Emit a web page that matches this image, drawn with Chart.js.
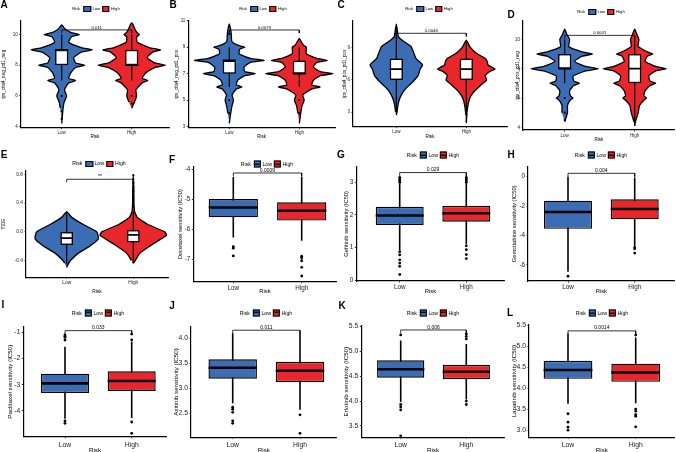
<!DOCTYPE html>
<html>
<head>
<meta charset="utf-8">
<script src="https://cdn.jsdelivr.net/npm/chart.js@4.4.0/dist/chart.umd.min.js"></script>
<style>
  body { margin: 0; width: 676px; height: 452px; overflow: hidden; background: #fff; position: relative; font-family: "Liberation Sans", Arial, sans-serif; }
  canvas { position: absolute; }
  .tag { position: absolute; font-weight: bold; font-size: 10px; line-height: 1; transform: translate(-50%, -50%); color: #000; }
  .legend { position: absolute; display: flex; align-items: center; white-space: nowrap; transform: translate(-50%, -50%); color: #000; line-height: 1; }
  .legend .key { display: inline-block; box-sizing: border-box; border: 1px solid #000; margin: 0 1.5px 0 2px; }
</style>
</head>
<body>
<script>
// ---- data ----
const groups = ['Low', 'High'];
const panelTags = ['A', 'B', 'C', 'D', 'E', 'F', 'G', 'H', 'I', 'J', 'K', 'L'];
const yTitles = ['ips_ctla4_neg_pd1_neg', 'ips_ctla4_neg_pd1_pos', 'ips_ctla4_pos_pd1_pos', 'ips_ctla4_pos_pd1_neg', 'TIDE',
  'Docetaxel sensitivity (IC50)', 'Gefitinib sensitivity (IC50)', 'Gemcitabine sensitivity (IC50)',
  'Paclitaxel sensitivity (IC50)', 'Axitinib sensitivity (IC50)', 'Erlotinib sensitivity (IC50)', 'Lapatinib sensitivity (IC50)'];
const xTitle = 'Risk';
const legendTitle = 'Risk';
const pLabels = ['0.011', '0.0079', '0.0046', '0.0041', '**', '0.0009', '0.029', '0.004', '0.033', '0.011', '0.006', '0.0014'];
const bracketY = [10.3, 10.3, 10.33, 10.27, 0.733, -4.12, 3.3, 0.23, -0.94, 4.16, 5.43, 5.36];

const yMin = [3.93, 2.92, 1.66, 3.82, -0.638, -7.75, -0.03, -7.09, -4.98, 2.02, 3.27, 2.83];
const yMax = [10.9, 11.0, 11.5, 11.27, 0.853, -3.91, 3.48, 0.68, -0.79, 4.23, 5.51, 5.5];
const yTicks = [[4, 6, 8, 10], [3, 5, 7, 9, 11], [3, 6, 9], [4, 6, 8, 10], [-0.4, 0, 0.4, 0.8],
  [-7, -6, -5, -4], [0, 1, 2, 3], [-6, -4, -2, 0], [-4, -3, -2, -1], [2.5, 3, 3.5, 4], [3.5, 4, 4.5, 5, 5.5], [3, 3.5, 4, 4.5, 5, 5.5]];
const tickDecimals = [0, 0, 0, 0, 1, 0, 0, 0, 0, 1, 1, 1];

// box statistics per panel, [Low, High]
const q1 = [[8, 8], [7, 7], [6, 6], [8, 7], [-0.187, -0.15], [-5.6, -5.71], [1.69, 1.79], [-3.54, -2.9],
  [-3.32, -3.24], [3.19, 3.12], [4.47, 4.44], [4.22, 4.15]];
const median = [[9, 8], [8, 7], [7, 7], [8, 8], [-0.09, -0.046], [-5.27, -5.38], [1.98, 2.05], [-2.4, -2.2],
  [-2.95, -2.86], [3.41, 3.35], [4.64, 4.59], [4.43, 4.37]];
const q3 = [[9, 9], [8, 8], [8, 8], [9, 9], [0, 0.024], [-4.99, -5.1], [2.25, 2.28], [-1.63, -1.54],
  [-2.58, -2.49], [3.58, 3.53], [4.82, 4.73], [4.65, 4.58]];
const whiskerLo = [[7, 7], [6, 6], [3, 2.1], [7, 4.1], [-0.46, -0.41], [-6.27, -6.38], [0.92, 1.1], [-6.46, -4.76],
  [-4.3, -4.27], [2.7, 2.57], [3.98, 4.03], [3.63, 3.64]];
const whiskerHi = [[10, 10], [9, 9], [10.9, 9.5], [10, 10], [0.26, 0.28], [-4.25, -4.25], [2.97, 2.97], [0, -0.05],
  [-1.55, -1.35], [4.1, 4.1], [5.22, 5.15], [5.3, 5.2]];
const outliers = [
  [[6, 5, 4.5], [6, 5.5]],
  [[10, 5, 4], [5, 4]],
  [[], []],
  [[6, 5, 4.5], []],
  [[], [0.35, 0.45, 0.57, 0.62, 0.68, 0.73, 0.79, -0.43]],
  [[-6.58, -6.63, -6.89], [-6.9, -6.95, -7.05, -7.27, -7.56]],
  [[3.0, 3.05, 3.1, 3.15, 0.87, 0.77, 0.62, 0.52, 0.42, 0.17], [3.0, 3.05, 3.1, 3.15, 1.05, 0.93, 0.78, 0.66]],
  [[-6.76], [-4.83, -4.9, -5.19]],
  [[-1.1, -1.15, -1.2, -1.3, -4.38, -4.47], [-1.07, -1.29, -4.42, -4.85]],
  [[2.62, 2.58, 2.52, 2.35, 2.3], [2.47, 2.1]],
  [[5.33, 3.93, 3.88, 3.82, 3.3], [5.35, 5.3, 5.25, 4.0, 3.93]],
  [[3.39, 3.19, 3.07, 3.0], [5.26, 3.5, 3.45, 3.37, 3.33, 3.08]]
];

// violin outlines for panels A-E: y levels and half widths (x units) for Low / High
const violinY = [
  [4.2, 5.2, 5.6, 6.0, 6.4, 6.85, 7.0, 7.15, 7.5, 7.85, 8.0, 8.15, 8.5, 8.85, 9.0, 9.15, 9.5, 9.85, 10.0, 10.15, 10.4, 10.63, 10.75],
  [3.25, 4.0, 4.6, 5.0, 5.4, 5.85, 6.0, 6.15, 6.5, 6.85, 7.0, 7.15, 7.5, 7.85, 8.0, 8.15, 8.5, 8.85, 9.0, 9.15, 9.4, 9.67, 9.9, 10.3, 10.75],
  [2.0, 2.74, 3.0, 3.5, 4.0, 4.45, 5.0, 5.23, 5.6, 6.0, 6.4, 6.77, 7.0, 7.39, 7.7, 8.0, 8.5, 9.1, 9.7, 10.0, 10.6, 11.19],
  [4.1, 4.38, 5.0, 5.5, 5.85, 6.0, 6.15, 6.5, 6.85, 7.0, 7.15, 7.5, 7.85, 8.0, 8.15, 8.5, 8.85, 9.0, 9.15, 9.5, 10.0, 10.35, 10.7],
  [-0.5, -0.44, -0.4, -0.3, -0.2, -0.1, -0.05, 0.0, 0.1, 0.2, 0.28, 0.4, 0.6, 0.8]
];
const violinLow = [
  [0, 0.02, 0.035, 0.07, 0.04, 0.1, 0.2, 0.1, 0.13, 0.2, 0.33, 0.2, 0.17, 0.28, 0.44, 0.28, 0.1, 0.14, 0.25, 0.12, 0.04, 0, 0],
  [0, 0.02, 0.04, 0.06, 0.04, 0.1, 0.18, 0.1, 0.12, 0.22, 0.37, 0.22, 0.21, 0.3, 0.5, 0.3, 0.14, 0.15, 0.22, 0.12, 0.04, 0.03, 0.03, 0.02, 0],
  [0, 0, 0.01, 0.02, 0.035, 0.06, 0.11, 0.14, 0.2, 0.26, 0.31, 0.33, 0.34, 0.375, 0.33, 0.28, 0.25, 0.21, 0.08, 0.03, 0.015, 0],
  [0, 0, 0.04, 0.04, 0.08, 0.12, 0.08, 0.07, 0.13, 0.21, 0.13, 0.12, 0.3, 0.48, 0.3, 0.14, 0.25, 0.4, 0.25, 0.06, 0.07, 0.03, 0],
  [0, 0.03, 0.06, 0.175, 0.35, 0.475, 0.47, 0.45, 0.25, 0.075, 0, 0, 0, 0]
];
const violinHigh = [
  [0, 0, 0.04, 0.07, 0.06, 0.15, 0.23, 0.15, 0.2, 0.33, 0.48, 0.33, 0.22, 0.3, 0.41, 0.25, 0.08, 0.07, 0.11, 0.07, 0.04, 0.02, 0],
  [0, 0.02, 0.04, 0.07, 0.05, 0.18, 0.3, 0.18, 0.2, 0.3, 0.48, 0.3, 0.2, 0.25, 0.4, 0.25, 0.1, 0.1, 0.1, 0.06, 0.03, 0, 0, 0, 0],
  [0, 0.008, 0.01, 0.02, 0.035, 0.06, 0.12, 0.16, 0.22, 0.29, 0.27, 0.33, 0.41, 0.31, 0.3, 0.27, 0.14, 0.05, 0, 0, 0, 0],
  [0, 0.01, 0.05, 0.07, 0.13, 0.17, 0.13, 0.15, 0.22, 0.3, 0.22, 0.2, 0.3, 0.45, 0.3, 0.15, 0.18, 0.26, 0.18, 0.05, 0.06, 0.03, 0],
  [0, 0, 0.03, 0.1, 0.25, 0.42, 0.5, 0.47, 0.22, 0.06, 0.02, 0.01, 0.008, 0]
];

// ---- layout (px, relative to each panel's origin) ----
const colors = ['#3a6db3', '#e8262b'];
const FONT = '"Liberation Sans", Arial, sans-serif';
const CW = 180, CH = 160;
const frames = [
  { ox: 0,   oy: 0,   left: 20.7, right: 169,   top: 20.7, bottom: 127.7, c1: 61.7, c2: 131.7, lg: [96, 9],    tag: [4, 5] },
  { ox: 169, oy: 0,   left: 19.3, right: 166,   top: 20.7, bottom: 127.7, c1: 60.3, c2: 130.3, lg: [94, 9],    tag: [4, 5] },
  { ox: 338, oy: 0,   left: 15,   right: 169,   top: 20.7, bottom: 126.7, c1: 58.3, c2: 128.3, lg: [91, 9],    tag: [3, 5] },
  { ox: 507, oy: 0,   left: 16,   right: 167.7, top: 20.7, bottom: 130,   c1: 57.7, c2: 127.7, lg: [94, 11.7], tag: [4, 15] },
  { ox: 0,   oy: 150, left: 26,   right: 168,   top: 20.7, bottom: 127.3, c1: 66.7, c2: 133.3, lg: [99, 14],   tag: [4, 5] },
  { ox: 169, oy: 150, left: 24.3, right: 167.7, top: 16.7, bottom: 131.7, c1: 64.3, c2: 132.7, lg: [98, 14],   tag: [3, 10] },
  { ox: 338, oy: 150, left: 18.3, right: 166.7, top: 16.7, bottom: 131,   c1: 61.7, c2: 128.3, lg: [95, 5],    tag: [3, 5] },
  { ox: 507, oy: 150, left: 21,   right: 167.7, top: 16.7, bottom: 131,   c1: 61,   c2: 127.7, lg: [94, 5],    tag: [4, 5] },
  { ox: 0,   oy: 300, left: 23.3, right: 166.7, top: 26.7, bottom: 136.7, c1: 65,   c2: 131.7, lg: [98, 12.7], tag: [3, 5] },
  { ox: 169, oy: 300, left: 22,   right: 167.7, top: 26.7, bottom: 137.3, c1: 63.7, c2: 131,   lg: [97, 12.7], tag: [3, 6] },
  { ox: 338, oy: 300, left: 23.3, right: 166.7, top: 26,   bottom: 137.3, c1: 62.7, c2: 128.3, lg: [95, 12.7], tag: [4, 6] },
  { ox: 507, oy: 300, left: 22,   right: 167.7, top: 25,   bottom: 137.3, c1: 61,   c2: 128.7, lg: [95, 13.3], tag: [3, 13] }
];
// per row styling: tick font, title font, legend font, p-value font, y-title centre x, x-title centre y, x tick gap
const rowStyle = [
  { tick: 4.5, title: 4.6, legend: 4.2, p: 4.3, yTitleX: [4, 7.7, 6.7, 11], xTitleY: [136.7, 137, 136.7, 139.3], gap: 1.2 },
  { tick: 6.3, title: 5.8, legend: 5.2, p: 5,   yTitleX: [3.3, 11, 8.3, 7],  xTitleY: [141.7, 141.7, 141.7, 141.7], gap: 0.8 },
  { tick: 6.8, title: 6.2, legend: 5.2, p: 5,   yTitleX: [10, 7.7, 8.3, 7.7], xTitleY: [150, 150, 150, 150], gap: 2.5 }
];

function violinOutline(grid, half, centre) {
  let a = Math.max(half.findIndex(w => w > 0) - 1, 0);
  let b = half.length - 1;
  while (b > 0 && half[b - 1] === 0) b--;
  const pts = [];
  for (let k = a; k <= b; k++) pts.push({ x: centre + half[k], y: grid[k] });
  const from = half[b] === 0 ? b - 1 : b;
  const to = half[a] === 0 ? a + 1 : a;
  for (let k = from; k >= to; k--) pts.push({ x: centre - half[k], y: grid[k] });
  return pts;
}

function addLegend(i, f, st) {
  const boxKey = i >= 5;
  const div = document.createElement('div');
  div.className = 'legend';
  div.style.left = (f.ox + f.lg[0]) + 'px';
  div.style.top = (f.oy + f.lg[1]) + 'px';
  div.style.fontSize = st.legend + 'px';
  let html = '<span style="margin-right:1px">' + legendTitle + '</span>';
  groups.forEach((g, k) => {
    const w = boxKey ? 7 : 7.5, h = boxKey ? 7 : 6;
    const bg = boxKey ? 'linear-gradient(#111,#111) center/100% 1.6px no-repeat, ' + colors[k] : colors[k];
    const bw = boxKey ? '1.6px' : '0.9px';
    html += '<span class="key" style="width:' + w + 'px;height:' + h + 'px;border-width:' + bw + ';background:' + bg + '"></span><span>' + g + '</span>';
  });
  div.innerHTML = html;
  document.body.appendChild(div);

  const tag = document.createElement('div');
  tag.className = 'tag';
  tag.textContent = panelTags[i];
  tag.style.left = (f.ox + f.tag[0]) + 'px';
  tag.style.top = (f.oy + f.tag[1]) + 'px';
  document.body.appendChild(tag);
}

function drawPanel(i) {
  const f = frames[i];
  const row = Math.floor(i / 4);
  const col = i % 4;
  const st = rowStyle[row];
  const violin = i < 5;
  const tickSize = i === 4 ? 4.8 : st.tick;
  const titleSize = i === 4 ? 4.8 : st.title;
  const unit = f.c2 - f.c1;
  const xMin = 1 - (f.c1 - f.left) / unit;
  const xMax = 2 + (f.right - f.c2) / unit;
  const boxW = violin ? 0.19 : 0.72;
  const hw = boxW / 2;
  const yTitleX = st.yTitleX[col];
  const xTitleY = st.xTitleY[col];

  const canvas = document.createElement('canvas');
  canvas.width = CW; canvas.height = CH;
  canvas.style.left = f.ox + 'px'; canvas.style.top = f.oy + 'px';
  document.body.appendChild(canvas);

  const datasets = [];
  if (violin) {
    groups.forEach((g, k) => {
      datasets.push({
        type: 'line', data: violinOutline(violinY[i], k === 0 ? violinLow[i] : violinHigh[i], k + 1),
        fill: 'shape', backgroundColor: colors[k], borderColor: '#000', borderWidth: 1.3,
        pointRadius: 0, tension: 0.15, order: 6
      });
    });
  }
  const whisk = [];
  const meds = [];
  const outs = [];
  groups.forEach((g, k) => {
    const c = k + 1;
    whisk.push({ x: c, y: whiskerLo[i][k] }, { x: c, y: whiskerHi[i][k] }, { x: c + 0.5, y: null });
    meds.push({ x: c - hw, y: median[i][k] }, { x: c + hw, y: median[i][k] }, { x: c + 0.5, y: null });
    outliers[i][k].forEach(v => outs.push({ x: c, y: v }));
  });
  datasets.push({ type: 'line', data: whisk, borderColor: '#000', borderWidth: violin ? 1.2 : 1.6, pointRadius: 0, spanGaps: false, order: 5 });
  datasets.push({
    type: 'bar', data: groups.map((g, k) => ({ x: k + 1, y: [q1[i][k], q3[i][k]] })),
    backgroundColor: violin ? ['#fff', '#fff'] : colors, borderColor: '#000',
    borderWidth: violin ? 1.5 : 1.4, borderSkipped: false, barPercentage: boxW, categoryPercentage: 1, order: 4
  });
  datasets.push({ type: 'line', data: meds, borderColor: '#000', borderWidth: violin ? 1.8 : 2.6, pointRadius: 0, spanGaps: false, order: 3 });
  datasets.push({
    type: 'line', data: outs, showLine: false, pointRadius: violin ? 1.1 : 1.4,
    pointBackgroundColor: '#000', pointBorderWidth: 0, order: 2
  });
  const tip = 0.03 * (yMax[i] - yMin[i]);
  datasets.push({
    type: 'line', data: [{ x: 1, y: bracketY[i] - tip }, { x: 1, y: bracketY[i] }, { x: 2, y: bracketY[i] }, { x: 2, y: bracketY[i] - tip }],
    borderColor: '#000', borderWidth: 0.8, pointRadius: 0, order: 1
  });

  const pText = {
    id: 'pText',
    afterDatasetsDraw(chart) {
      const { ctx, scales } = chart;
      ctx.save();
      ctx.font = st.p + 'px ' + FONT;
      ctx.fillStyle = '#000';
      ctx.textAlign = 'center';
      ctx.textBaseline = 'bottom';
      ctx.fillText(pLabels[i], scales.x.getPixelForValue(1.5), scales.y.getPixelForValue(bracketY[i]) - 0.3);
      ctx.restore();
    }
  };

  new Chart(canvas, {
    type: 'bar',
    data: { datasets },
    plugins: [pText],
    options: {
      responsive: false, animation: false, events: [],
      layout: { padding: { left: 0, top: f.top, right: CW - f.right, bottom: 0 } },
      plugins: { legend: { display: false }, tooltip: { enabled: false } },
      scales: {
        x: {
          type: 'linear', min: xMin, max: xMax, offset: false,
          afterFit: s => { s.height = CH - f.bottom; },
          afterBuildTicks: s => { s.ticks = groups.map((g, k) => ({ value: k + 1 })); },
          ticks: { callback: v => groups[Math.round(v) - 1], font: { size: tickSize, family: FONT }, color: '#222', padding: st.gap, maxRotation: 0, autoSkip: false },
          grid: { display: true, offset: false, drawOnChartArea: false, tickLength: 1.5, color: '#000', lineWidth: 0.8 },
          border: { display: true, color: '#000', width: 1.2 },
          title: { display: true, text: xTitle, color: '#000', font: { size: titleSize, family: FONT }, padding: { top: 0, bottom: CH - xTitleY - titleSize * 0.6 } }
        },
        y: {
          type: 'linear', min: yMin[i], max: yMax[i],
          afterFit: s => { s.width = f.left; },
          afterBuildTicks: s => { s.ticks = yTicks[i].map(v => ({ value: v })); },
          ticks: { callback: v => v.toFixed(tickDecimals[i]), font: { size: tickSize, family: FONT }, color: '#222', padding: 1.5 },
          grid: { display: true, drawOnChartArea: false, tickLength: 1.5, color: '#000', lineWidth: 0.8 },
          border: { display: true, color: '#000', width: 1.2 },
          title: { display: true, text: yTitles[i], color: '#000', font: { size: titleSize, family: FONT }, padding: { top: Math.max(yTitleX - titleSize * 0.6, 0), bottom: 0 } }
        }
      }
    }
  });
  addLegend(i, f, st);
}

for (let i = 0; i < 12; i++) drawPanel(i);
</script>
</body>
</html>
